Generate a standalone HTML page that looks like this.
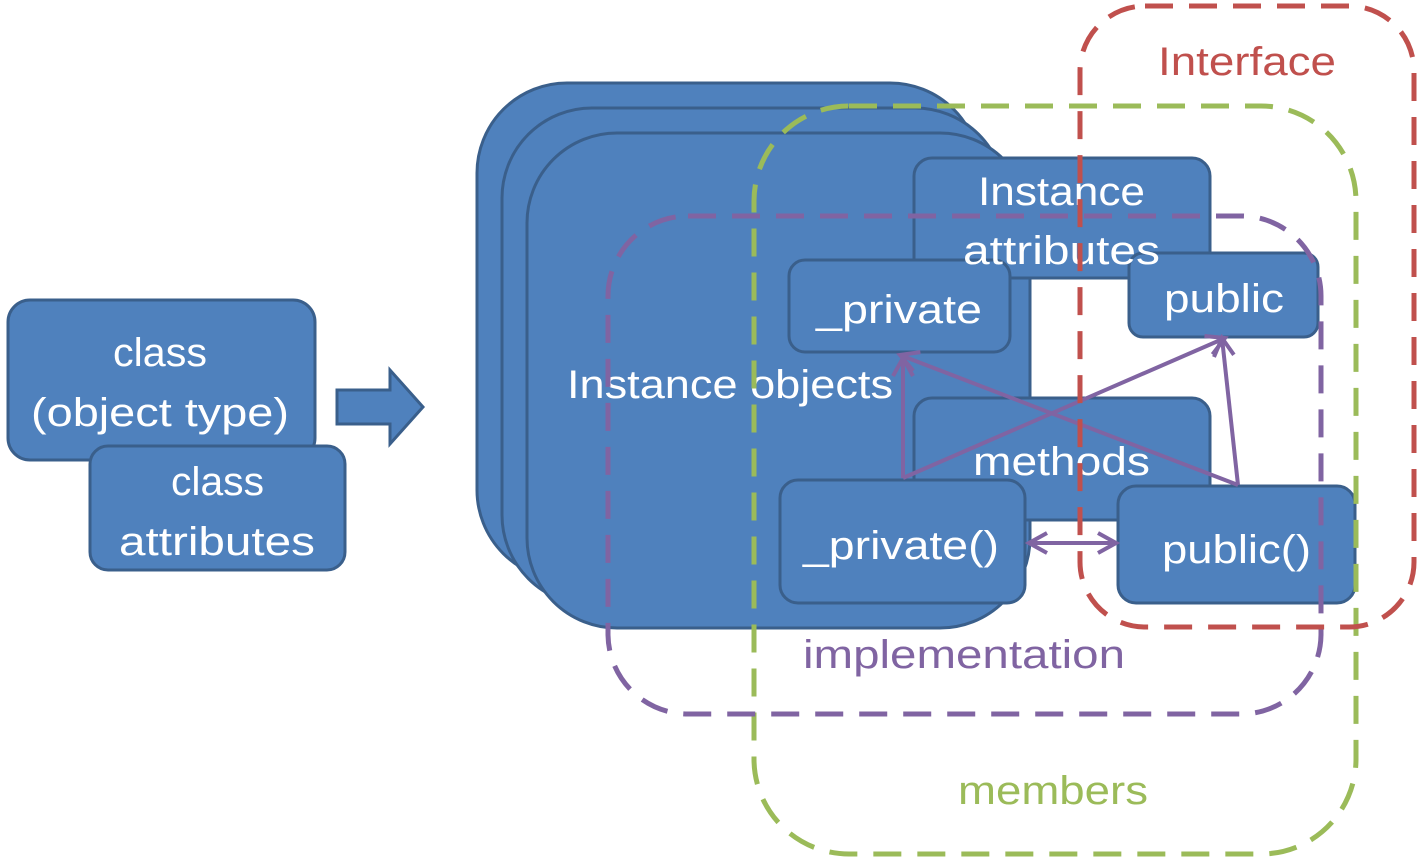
<!DOCTYPE html>
<html><head><meta charset="utf-8"><style>html,body{margin:0;padding:0;background:#fff}svg{display:block}</style></head>
<body>
<svg width="1417" height="858" viewBox="0 0 1417 858" xmlns="http://www.w3.org/2000/svg" font-family="Liberation Sans, sans-serif">
<defs>
<marker id="ah2" markerWidth="24" markerHeight="24" refX="20" refY="12" orient="auto-start-reverse" markerUnits="userSpaceOnUse">
<path d="M2,2 L20,12 L2,22" fill="none" stroke="#8064A2" stroke-width="4"/>
</marker>
</defs>
<g fill="#4F81BD" stroke="#3A5F8B" stroke-width="3">
<rect x="8" y="300" width="307" height="160" rx="22"/>
<rect x="90" y="446" width="255" height="124" rx="18"/>
<path d="M337,390 H390 V370 L423,407 L390,444 V424 H337 Z"/>
<rect x="477" y="83" width="503" height="497" rx="90"/>
<rect x="502" y="108" width="503" height="497" rx="90"/>
<rect x="527" y="133" width="503" height="495" rx="90"/>
<rect x="914" y="158" width="296" height="120" rx="18"/>
<rect x="914" y="398" width="296" height="122" rx="18"/>
<rect x="789" y="260" width="221" height="92" rx="16"/>
<rect x="1129" y="253" width="189" height="84" rx="14"/>
<rect x="780" y="480" width="245" height="123" rx="18"/>
<rect x="1118" y="486" width="237" height="117" rx="18"/>
</g>
<g fill="#fff" font-size="40" lengthAdjust="spacingAndGlyphs">
<text x="113" y="366" textLength="94" lengthAdjust="spacingAndGlyphs">class</text>
<text x="31" y="426" textLength="258" lengthAdjust="spacingAndGlyphs">(object type)</text>
<text x="171" y="495" textLength="93" lengthAdjust="spacingAndGlyphs">class</text>
<text x="119" y="555" textLength="196" lengthAdjust="spacingAndGlyphs">attributes</text>
<text x="567" y="398" textLength="326" lengthAdjust="spacingAndGlyphs">Instance objects</text>
<text x="978" y="205" textLength="167" lengthAdjust="spacingAndGlyphs">Instance</text>
<text x="963" y="264" textLength="197" lengthAdjust="spacingAndGlyphs">attributes</text>
<text x="816" y="323" textLength="166" lengthAdjust="spacingAndGlyphs">_private</text>
<text x="1164" y="312" textLength="120" lengthAdjust="spacingAndGlyphs">public</text>
<text x="973" y="475" textLength="177" lengthAdjust="spacingAndGlyphs">methods</text>
<text x="803" y="559" textLength="196" lengthAdjust="spacingAndGlyphs">_private()</text>
<text x="1162" y="563" textLength="149" lengthAdjust="spacingAndGlyphs">public()</text>
</g>
<g fill="none" stroke="#8064A2" stroke-width="4">
<line x1="903" y1="478" x2="903" y2="358" marker-end="url(#ah2)"/>
<line x1="1238" y1="485" x2="900" y2="355" marker-end="url(#ah2)"/>
<line x1="903" y1="478" x2="1225" y2="338" marker-end="url(#ah2)"/>
<line x1="1238" y1="485" x2="1222" y2="338" marker-end="url(#ah2)"/>
<line x1="1029" y1="543" x2="1116" y2="543" marker-start="url(#ah2)" marker-end="url(#ah2)"/>
</g>
<g fill="none" stroke-width="5" stroke-dasharray="28,16">
<rect x="754" y="106" width="602" height="748" rx="95" stroke="#9BBB59"/>
<rect x="608" y="216" width="713" height="498" rx="80" stroke="#8064A2"/>
<rect x="1080" y="6" width="334" height="621" rx="65" stroke="#C0504D"/>
</g>
<text x="1158" y="75" font-size="40" fill="#C0504D" textLength="178" lengthAdjust="spacingAndGlyphs">Interface</text>
<text x="803" y="668" font-size="40" fill="#8064A2" textLength="322" lengthAdjust="spacingAndGlyphs">implementation</text>
<text x="958" y="804" font-size="40" fill="#9BBB59" textLength="190" lengthAdjust="spacingAndGlyphs">members</text>
</svg>
</body></html>
